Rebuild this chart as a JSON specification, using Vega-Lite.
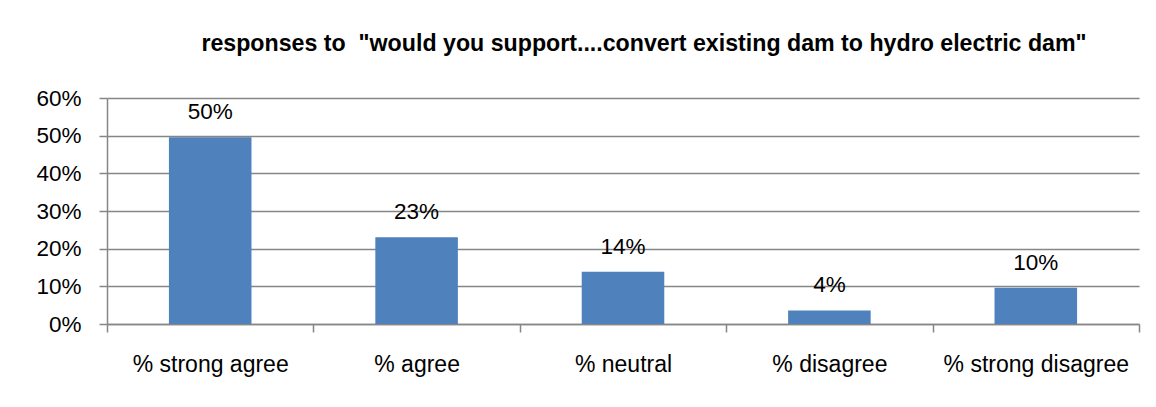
{
  "$schema": "https://vega.github.io/schema/vega-lite/v6.json",
  "width": 1032,
  "height": 226,
  "autosize": {"type": "none"},
  "padding": {"left": 107, "top": 98, "right": 17, "bottom": 83},
  "background": "white",
  "title": {
    "text": "responses to \u00a0\"would you support....convert existing dam to hydro electric dam\"",
    "font": "Liberation Sans",
    "fontSize": 23.2,
    "fontWeight": "bold",
    "color": "black",
    "anchor": "middle",
    "dx": 21,
    "offset": 31,
    "limit": 0
  },
  "data": {
    "values": [
      {"category": "% strong agree", "value": 0.496},
      {"category": "% agree", "value": 0.23},
      {"category": "% neutral", "value": 0.139},
      {"category": "% disagree", "value": 0.036},
      {"category": "% strong disagree", "value": 0.096}
    ]
  },
  "config": {
    "view": {"stroke": null},
    "font": "Liberation Sans"
  },
  "encoding": {
    "x": {
      "field": "category",
      "type": "nominal",
      "sort": null,
      "scale": {"paddingInner": 0, "paddingOuter": 0},
      "axis": {
        "title": null,
        "labelAngle": 0,
        "labelFont": "Liberation Sans",
        "labelFontSize": 23,
        "labelColor": "black",
        "labelPadding": 21,
        "labelLimit": 0,
        "tickBand": "extent",
        "tickSize": 8,
        "tickColor": "#868686",
        "tickWidth": 1.5,
        "domainColor": "#868686",
        "domainWidth": 1.5,
        "grid": false
      }
    },
    "y": {
      "field": "value",
      "type": "quantitative",
      "scale": {"domain": [0, 0.6], "nice": false},
      "axis": {
        "title": null,
        "format": ".0%",
        "values": [0, 0.1, 0.2, 0.3, 0.4, 0.5, 0.6],
        "labelFont": "Liberation Sans",
        "labelFontSize": 22.5,
        "labelColor": "black",
        "labelPadding": 18,
        "tickSize": 8,
        "tickColor": "#868686",
        "tickWidth": 1.5,
        "domainColor": "#868686",
        "domainWidth": 1.5,
        "grid": true,
        "gridColor": "#868686",
        "gridWidth": 1.5
      }
    }
  },
  "layer": [
    {"mark": {"type": "bar", "color": "#4F81BD", "width": {"band": 0.4}}},
    {
      "mark": {
        "type": "text",
        "baseline": "middle",
        "dy": -25,
        "fontSize": 22.5,
        "font": "Liberation Sans",
        "color": "black"
      },
      "encoding": {"text": {"field": "value", "type": "quantitative", "format": ".0%"}}
    }
  ]
}
